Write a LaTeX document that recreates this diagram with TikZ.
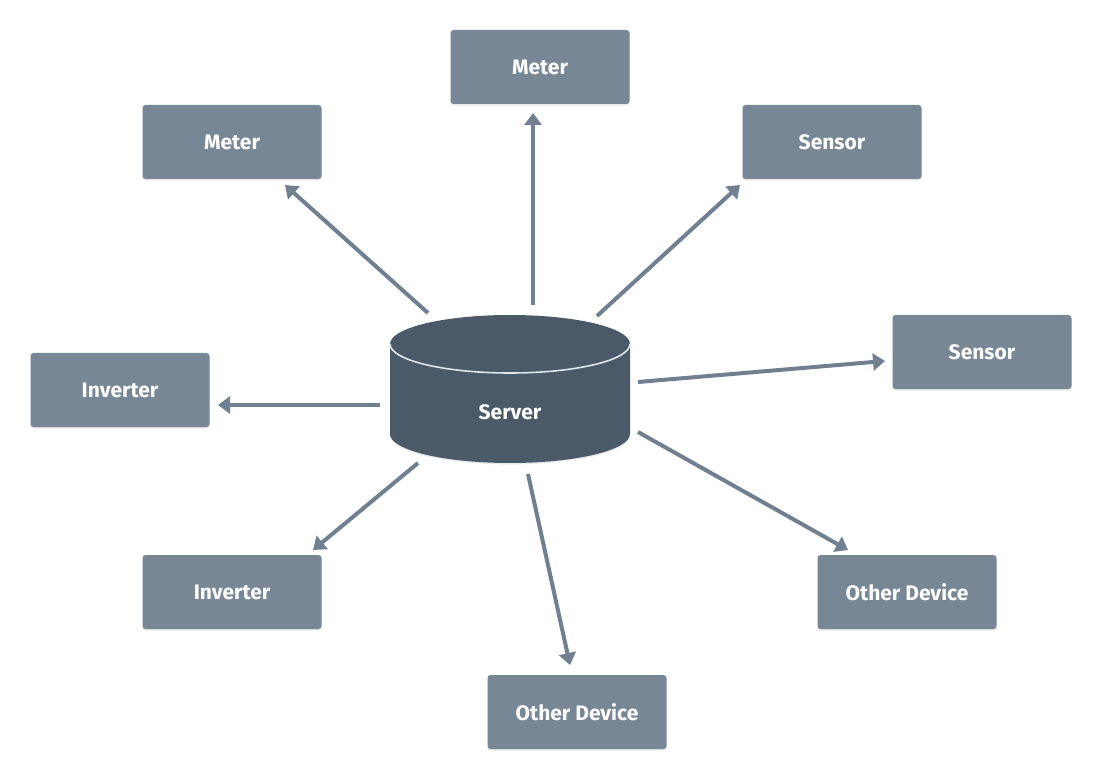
\documentclass[tikz,border=0pt]{standalone}
\usepackage{fontspec}
\setmainfont{Fira Sans}
\usetikzlibrary{arrows.meta, calc, shadows}

\definecolor{boxgray}{RGB}{120,135,150}
\definecolor{linkgray}{RGB}{112,128,144}
\definecolor{srvslate}{RGB}{74,90,104}
\definecolor{srvedge}{RGB}{225,230,234}

\tikzset{
  device/.style = {rectangle, rounded corners=1.5pt, fill=boxgray, text=white,
    minimum width=89.5pt, minimum height=37pt, inner sep=0pt,
    font=\fontsize{10.5}{12}\selectfont\bfseries,
    drop shadow={opacity=0.18, shadow xshift=0pt, shadow yshift=-0.8pt}},
  link/.style = {draw=linkgray, line width=2pt,
    -{Triangle[length=6pt, width=8.5pt]}}
}

\begin{document}
\begin{tikzpicture}[x=0.5pt, y=-0.5pt]

    \useasboundingbox (0,0) rectangle (1102,780);

    % the server drum
    \fill[srvslate, drop shadow={opacity=0.15, shadow xshift=0pt, shadow yshift=-0.8pt}]
        (390,344) -- (390,434) arc[start angle=180, end angle=0, x radius=120, y radius=29]
        -- (630,344) arc[start angle=0, end angle=-180, x radius=120, y radius=29] -- cycle;
    \draw[srvedge, line width=0.8pt] (390,344) arc[start angle=180, end angle=0, x radius=120, y radius=29];
    \node (srv) [text=white, font=\fontsize{10.5}{12}\selectfont\bfseries] at (510,412) {Server};

    % devices round it
    \node (meterT)  [device] at (540,67)  {Meter};
    \node (meterL)  [device] at (232,142) {Meter};
    \node (sensorT) [device] at (832,142) {Sensor};
    \node (sensorR) [device] at (982,352) {Sensor};
    \node (invL)    [device] at (120,390) {Inverter};
    \node (invB)    [device] at (232,592) {Inverter};
    \node (otherR)  [device] at (907,592) {Other Device};
    \node (otherB)  [device] at (577,712) {Other Device};

    % links
    \draw[link] ($(srv)+(23,-107)$) -- ($(meterT)+(-7,46)$);
    \draw[link] ($(srv)+(-82,-99)$) -- ($(meterL)+(53,43)$);
    \draw[link] ($(srv)+(87,-96)$)  -- ($(sensorT)+(-92,43)$);
    \draw[link] ($(srv)+(128,-30)$) -- ($(sensorR)+(-97,9)$);
    \draw[link] ($(srv)+(-130,-7)$) -- ($(invL)+(98,15)$);
    \draw[link] ($(srv)+(-92,51)$)  -- ($(invB)+(81,-42)$);
    \draw[link] ($(srv)+(128,20)$)  -- ($(otherR)+(-59,-42)$);
    \draw[link] ($(srv)+(18,62)$)   -- ($(otherB)+(-7,-47)$);

\end{tikzpicture}
\end{document}
